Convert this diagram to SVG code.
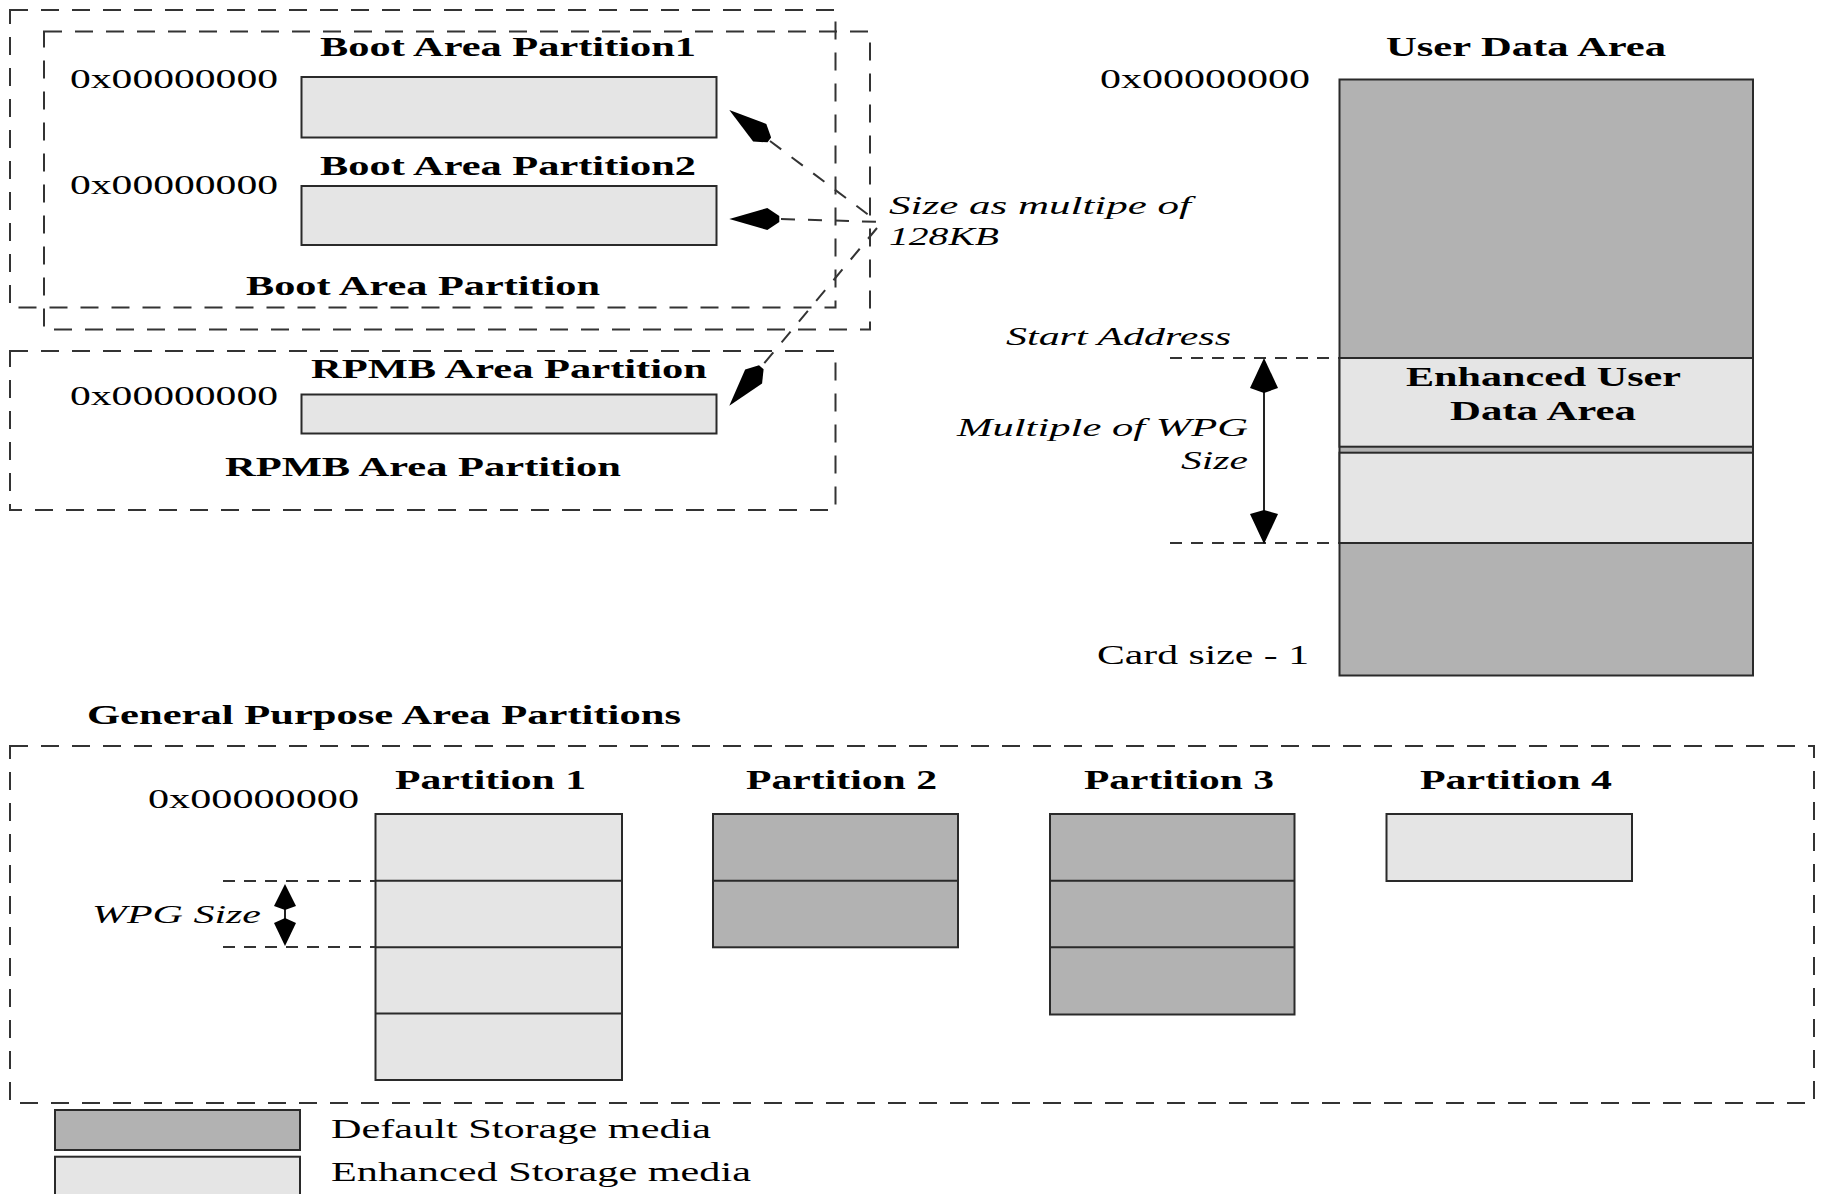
<svg xmlns="http://www.w3.org/2000/svg" width="1826" height="1194" viewBox="0 0 1826 1194">
<style>
.bg{fill:#fff}
.dash{fill:none;stroke:#333;stroke-width:2;stroke-dasharray:18 13}
.dk{fill:#b2b2b2;stroke:#2a2a2a;stroke-width:2}
.lt{fill:#e5e5e5;stroke:#2a2a2a;stroke-width:2}
.dv{stroke:#2a2a2a;stroke-width:2;fill:none}
.conn{fill:none;stroke:#333;stroke-width:2;stroke-dasharray:14 13}
.guide{fill:none;stroke:#333;stroke-width:2;stroke-dasharray:12 9}
.solid{fill:none;stroke:#222;stroke-width:2}
.head{fill:#000}
.b{font-family:"Liberation Serif","Times New Roman",serif;font-weight:bold;font-size:27px;fill:#000}
.r{font-family:"Liberation Serif","Times New Roman",serif;font-size:27px;fill:#000}
.lg{font-family:"Liberation Serif","Times New Roman",serif;font-size:28px;fill:#000}
.i{font-family:"Liberation Serif","Times New Roman",serif;font-style:italic;font-size:25px;fill:#000}
</style>
<defs>
<path id="kite" d="M0,0 L-38,-11 L-50,-3 L-50,3 L-38,11 Z"/>
</defs>
<rect class="bg" x="0" y="0" width="1826" height="1194"/>

<g id="boot-area-outer"><rect class="dash" x="10" y="10" width="825.5" height="297.5"/></g>
<g id="boot-area-inner"><rect class="dash" x="44" y="31.5" width="826" height="298"/></g>
<g id="rpmb-area"><rect class="dash" x="10" y="351" width="825.5" height="159"/></g>
<g id="gp-area"><rect class="dash" x="10" y="746" width="1804" height="357"/></g>

<g id="boot1">
<text class="b" x="320" y="56" textLength="376" lengthAdjust="spacingAndGlyphs">Boot Area Partition1</text>
<text class="r" x="70" y="88" textLength="208" lengthAdjust="spacingAndGlyphs">0x00000000</text>
<rect class="lt" x="301.5" y="77" width="415" height="60.5"/>
</g>
<g id="boot2">
<text class="b" x="320" y="175" textLength="376" lengthAdjust="spacingAndGlyphs">Boot Area Partition2</text>
<text class="r" x="70" y="194" textLength="208" lengthAdjust="spacingAndGlyphs">0x00000000</text>
<rect class="lt" x="301.5" y="186" width="415" height="59"/>
</g>
<g id="boot-label"><text class="b" x="246" y="295" textLength="354" lengthAdjust="spacingAndGlyphs">Boot Area Partition</text></g>
<g id="rpmb">
<text class="b" x="311" y="378" textLength="396" lengthAdjust="spacingAndGlyphs">RPMB Area Partition</text>
<text class="r" x="70" y="405" textLength="208" lengthAdjust="spacingAndGlyphs">0x00000000</text>
<rect class="lt" x="301.5" y="394.5" width="415" height="39"/>
<text class="b" x="225" y="476" textLength="396" lengthAdjust="spacingAndGlyphs">RPMB Area Partition</text>
</g>

<g id="size-label">
<text class="i" x="889" y="214" textLength="302" lengthAdjust="spacingAndGlyphs">Size as multipe of</text>
<text class="i" x="889" y="245" textLength="110" lengthAdjust="spacingAndGlyphs">128KB</text>
</g>

<g id="user-data">
<text class="b" x="1386" y="56" textLength="280" lengthAdjust="spacingAndGlyphs">User Data Area</text>
<text class="r" x="1100" y="88" textLength="210" lengthAdjust="spacingAndGlyphs">0x00000000</text>
<rect class="dk" x="1339.5" y="79.5" width="413.5" height="596"/>
<rect class="lt" x="1339.5" y="358" width="413.5" height="88.7"/>
<rect class="lt" x="1339.5" y="452.7" width="413.5" height="90.3"/>
<text class="b" x="1406" y="386" textLength="275" lengthAdjust="spacingAndGlyphs">Enhanced User</text>
<text class="b" x="1450" y="420" textLength="186" lengthAdjust="spacingAndGlyphs">Data Area</text>
<text class="r" x="1097" y="664" textLength="212" lengthAdjust="spacingAndGlyphs">Card size - 1</text>
</g>
<g id="start-address">
<text class="i" x="1006" y="345" textLength="225" lengthAdjust="spacingAndGlyphs">Start Address</text>
<text class="i" x="957" y="436" textLength="291" lengthAdjust="spacingAndGlyphs">Multiple of WPG</text>
<text class="i" x="1181" y="469" textLength="67" lengthAdjust="spacingAndGlyphs">Size</text>
</g>

<g id="gp-title"><text class="b" x="87" y="724" textLength="594" lengthAdjust="spacingAndGlyphs">General Purpose Area Partitions</text></g>
<g id="partition1">
<text class="b" x="395" y="789" textLength="191" lengthAdjust="spacingAndGlyphs">Partition 1</text>
<text class="r" x="148" y="808" textLength="211" lengthAdjust="spacingAndGlyphs">0x00000000</text>
<rect class="lt" x="375.5" y="814" width="246.5" height="266"/>
<path class="dv" d="M375.5,880.7H622M375.5,947.3H622M375.5,1013.6H622"/>
</g>
<g id="partition2">
<text class="b" x="746" y="789" textLength="191" lengthAdjust="spacingAndGlyphs">Partition 2</text>
<rect class="dk" x="713" y="814" width="245" height="133.3"/>
<path class="dv" d="M713,880.7H958"/>
</g>
<g id="partition3">
<text class="b" x="1084" y="789" textLength="190" lengthAdjust="spacingAndGlyphs">Partition 3</text>
<rect class="dk" x="1050" y="814" width="244.5" height="200.5"/>
<path class="dv" d="M1050,880.7H1294.5M1050,947.3H1294.5"/>
</g>
<g id="partition4">
<text class="b" x="1420" y="789" textLength="192" lengthAdjust="spacingAndGlyphs">Partition 4</text>
<rect class="lt" x="1386.5" y="814" width="245.5" height="67"/>
</g>
<g id="wpg-label"><text class="i" x="92" y="923" textLength="169" lengthAdjust="spacingAndGlyphs">WPG Size</text></g>

<g id="legend">
<rect class="dk" x="55" y="1110" width="245" height="40"/>
<text class="lg" x="331" y="1138" textLength="380" lengthAdjust="spacingAndGlyphs">Default Storage media</text>
<rect class="lt" x="55" y="1156.7" width="245" height="50"/>
<text class="lg" x="331" y="1181" textLength="420" lengthAdjust="spacingAndGlyphs">Enhanced Storage media</text>
</g>

<g id="connectors">
<path class="conn" d="M770,141L874,219"/>
<use href="#kite" class="head" transform="translate(729.3,110) rotate(216.8)"/>
<path class="conn" d="M781,219L881,222"/>
<use href="#kite" class="head" transform="translate(729.3,219) rotate(180)"/>
<path class="conn" d="M877,228L762,366"/>
<use href="#kite" class="head" transform="translate(729.3,405.7) rotate(129.8)"/>
<path class="guide" d="M1170,358H1339M1170,543H1339"/>
<path class="solid" d="M1264,385V518"/>
<polygon class="head" points="1264,358 1278,388 1264,393 1250,388"/>
<polygon class="head" points="1264,544 1278,514 1264,510 1250,514"/>
<path class="guide" d="M223,881H375M223,947H375"/>
<path class="solid" d="M285,900V930"/>
<polygon class="head" points="285,884 296,906 285,910 274,906"/>
<polygon class="head" points="285,946 296,923 285,918 274,923"/>
</g>
</svg>
